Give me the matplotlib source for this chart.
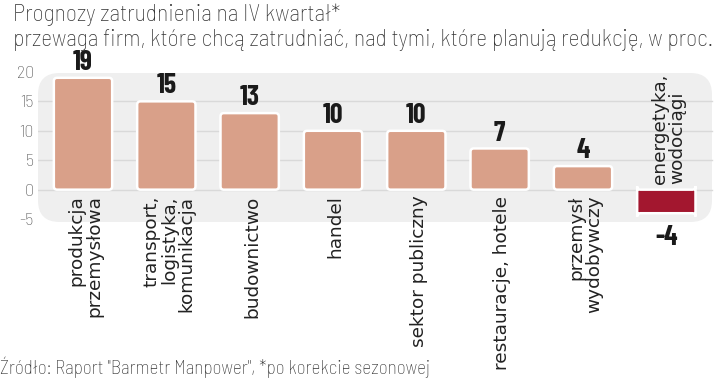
import matplotlib
matplotlib.use('Agg')
import matplotlib.pyplot as plt
from matplotlib.patches import FancyBboxPatch

narrow = ['Barlow Condensed', 'DejaVu Sans']
semi = ['Barlow Semi Condensed', 'Barlow Condensed', 'DejaVu Sans']

# data
categories = ['produkcja\nprzemysłowa', 'transport,\nlogistyka,\nkomunikacja', 'budownictwo',
              'handel', 'sektor publiczny', 'restauracje, hotele', 'przemysł\nwydobywczy',
              'energetyka,\nwodociągi']
values = [19, 15, 13, 10, 10, 7, 4, -4]
yticks = [-5, 0, 5, 10, 15, 20]

pos_color = '#d9a089'
neg_color = '#a3172f'

fig = plt.figure(figsize=(7.2, 3.78), dpi=100)
W, H = 720, 378

ax = fig.add_axes([38 / W, 153 / H, 680 / W, 159 / H])
ax.set_facecolor('none')
ax.set_xlim(-0.54, 7.62)
ax.set_ylim(-6, 21)
for s in ax.spines.values():
    s.set_visible(False)

# grey rounded panel behind the bars
panel = FancyBboxPatch((38 / W, 1 - 222 / H), 674 / W, 149 / H,
                       boxstyle='round,pad=0,rounding_size=0.03', mutation_aspect=W / H,
                       transform=fig.transFigure, facecolor='#efefef', edgecolor='none',
                       zorder=0, clip_on=False)
ax.add_patch(panel)

for g in [0, 5, 10, 15]:
    ax.axhline(g, xmax=674 / 680, color='#d9d9d9', lw=1, zorder=1)

colors = [pos_color if v >= 0 else neg_color for v in values]
bars = ax.bar(range(len(values)), values, width=0.7, color=colors)
# swap plain rectangles for rounded ones
xpx = 680 / (7.62 + 0.54)
ypx = 159 / 27
for rect, c in zip(bars, colors):
    x, y = rect.get_x(), rect.get_y()
    w, h = rect.get_width(), rect.get_height()
    rect.remove()
    p = FancyBboxPatch((x, y), w, h, boxstyle='round,pad=0,rounding_size=0.04',
                       mutation_aspect=xpx / ypx, facecolor=c, edgecolor='white', lw=1.8, zorder=3)
    ax.add_patch(p)

ax.set_xticks([])
ax.set_yticks(yticks)
ax.set_yticklabels([str(t) for t in yticks], family=semi, fontweight='light',
                   fontsize=13, color='#555555')
ax.tick_params(axis='y', length=0, pad=3)

for i, (lab, v) in enumerate(zip(categories, values)):
    if v >= 0:
        ax.text(i, v + 0.5, str(v), ha='center', va='bottom', family=narrow,
                fontweight='bold', fontsize=20, color='#1a1a1a', zorder=4)
        ax.text(i + 0.03, -1.0, lab, rotation=90, ha='center', va='top', multialignment='right',
                fontsize=13.3, color='#222222', linespacing=0.95, zorder=4)
    else:
        ax.text(i, v - 2.0, str(v), ha='center', va='top', family=narrow,
                fontweight='bold', fontsize=20, color='#1a1a1a', zorder=4)
        ax.text(i + 0.03, 1.0, lab, rotation=90, ha='center', va='bottom', multialignment='left',
                fontsize=13.3, color='#222222', linespacing=0.95, zorder=4)

fig.text(13 / W, 1 - 15 / H, 'Prognozy zatrudnienia na IV kwartał*', family=semi,
         fontweight='light', fontsize=17.1, color='#333333', va='center', ha='left')
fig.text(13 / W, 1 - 40 / H, 'przewaga firm, które chcą zatrudniać, nad tymi, które planują redukcję, w proc.',
         family=semi, fontweight='light', fontsize=17.1, color='#333333', va='center', ha='left')
fig.text(0, 1 - 367 / H, 'Źródło: Raport "Barmetr Manpower", *po korekcie sezonowej', family=semi,
         fontweight='light', fontsize=13.8, color='#333333', va='center', ha='left')

fig.savefig('out.png', dpi=100)
